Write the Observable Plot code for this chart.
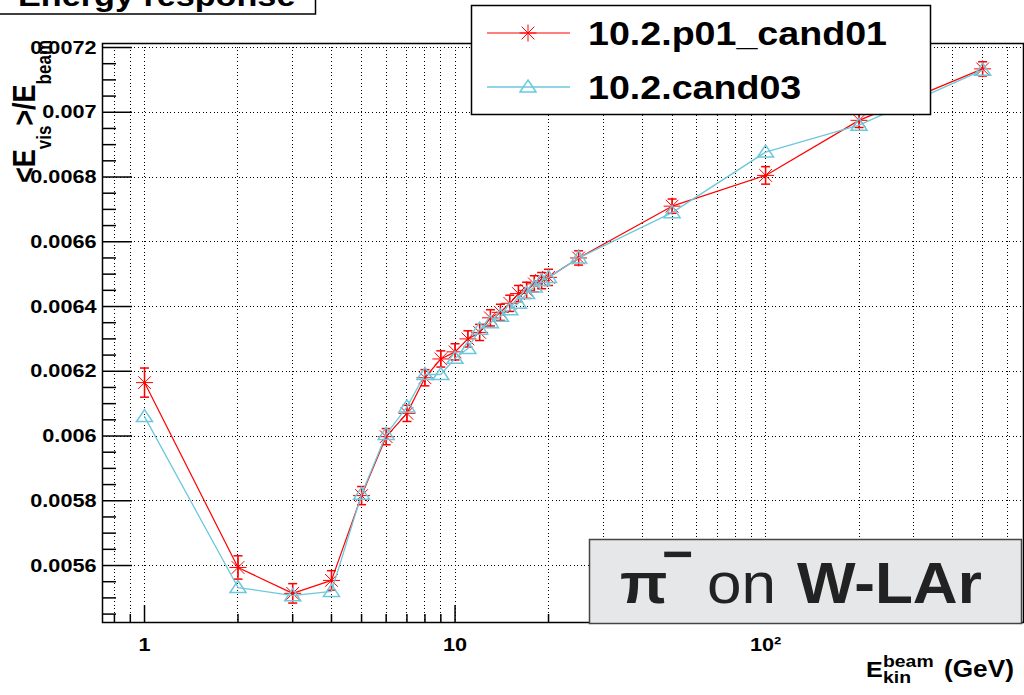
<!DOCTYPE html>
<html><head><meta charset="utf-8">
<script src="https://cdn.jsdelivr.net/npm/d3@7"></script>
<script src="https://cdn.jsdelivr.net/npm/@observablehq/plot@0.6"></script>
<style>html,body{margin:0;padding:0;background:#fff;} #chart{width:1024px;height:695px;overflow:hidden;}</style>
</head><body><div id="chart"></div>
<script>
// ---- data ----
const energies = [1,2,3,4,5,6,7,8,9,10,11,12,13,14,15,16,17,18,19,20,25,50,100,200,500];
const cand01 = [0.006165,0.005594,0.005514,0.005554,0.005816,0.005998,0.00607,0.00618,0.006238,0.00626,
                0.0063,0.00632,0.006365,0.006382,0.00641,0.00644,0.00645,0.00647,0.00648,0.00649,
                0.00655,0.00671,0.006805,0.006975,0.007134];
const cand01Err = [0.000045,0.000036,0.00003,0.00003,0.000028,0.000025,0.000025,0.000025,0.000025,0.000025,
                   0.000025,0.000025,0.000025,0.000025,0.000025,0.000025,0.000025,0.000025,0.000025,0.000025,
                   0.000022,0.000022,0.000027,0.000022,0.000022];
const cand03 = [0.00606,0.005532,0.005507,0.00552,0.00582,0.006005,0.00609,0.00619,0.00619,0.00624,
                0.00627,0.00633,0.00635,0.00637,0.00639,0.00641,0.00644,0.00646,0.00648,0.00649,
                0.00655,0.00669,0.006877,0.00696,0.00713];
const seriesNames = ["10.2.p01_cand01","10.2.cand03"];
const seriesColors = ["#ff0000","#6cc8dc"];
const xGrid = [0.8,0.9,1,2,3,4,5,6,7,8,9,10,20,30,40,50,60,70,80,90,100,200,300,400,500,600];
const xMajor = [1,10,100];
const xMinor = [0.8,0.9,2,3,4,5,6,7,8,9,20,30,40,50,60,70,80,90,200,300,400,500,600];
const xLabels = ["1","10","10²"];
const yMajor = [0.0056,0.0058,0.006,0.0062,0.0064,0.0066,0.0068,0.007,0.0072];
const yLabels = ["0.0056","0.0058","0.006","0.0062","0.0064","0.0066","0.0068","0.007","0.0072"];
const yMinor = [0.00545,0.0055,0.00555,0.00565,0.0057,0.00575,0.00585,0.0059,0.00595,
                0.00605,0.0061,0.00615,0.00625,0.0063,0.00635,0.00645,0.0065,0.00655,
                0.00665,0.0067,0.00675,0.00685,0.0069,0.00695,0.00705,0.0071,0.00715];

const redData = energies.map((x,i)=>({x, y:cand01[i], e:cand01Err[i]}));
const cyanData = energies.map((x,i)=>({x, y:cand03[i]}));

// ---- symbols ----
const starSymbol = {draw(ctx,size){const r=Math.sqrt(size/Math.PI), d=r*0.75;
  ctx.moveTo(-r,0);ctx.lineTo(r,0);ctx.moveTo(0,-r);ctx.lineTo(0,r);
  ctx.moveTo(-d,-d);ctx.lineTo(d,d);ctx.moveTo(-d,d);ctx.lineTo(d,-d);}};
const triSymbol = {draw(ctx,size){const r=Math.sqrt(size/Math.PI);
  ctx.moveTo(0,-0.875*r);ctx.lineTo(r,0.625*r);ctx.lineTo(-r,0.625*r);ctx.closePath();}};
const capSymbol = {draw(ctx,size){const r=Math.sqrt(size/Math.PI);ctx.moveTo(-r,0);ctx.lineTo(r,0);}};

const W=1024,H=695,mL=102,mR=1,mT=43,mB=73;
const innerW=W-mL-mR, innerH=H-mT-mB;
const dotted = "1,2.6";
const FONT = "Liberation Sans, Arial, Helvetica, sans-serif";
const crisp = {shapeRendering:"crispEdges"};

const chart = Plot.plot({
  width:W, height:H, marginLeft:mL, marginRight:mR, marginTop:mT, marginBottom:mB,
  style:{fontFamily:FONT, background:"white", color:"black"},
  x:{type:"log", domain:[0.7323, 677]},
  y:{domain:[0.005424, 0.0072124]},
  marks:[
    Plot.ruleX(xGrid, {x:d=>d, stroke:"black", strokeDasharray:dotted, strokeWidth:1, ...crisp}),
    Plot.ruleY(yMajor, {y:d=>d, stroke:"black", strokeDasharray:dotted, strokeWidth:1, ...crisp}),
    Plot.tickX(xMajor, {x:d=>d, insetTop:innerH-17, stroke:"black", strokeWidth:1.5}),
    Plot.tickX(xMinor, {x:d=>d, insetTop:innerH-8, stroke:"black", strokeWidth:1.5}),
    Plot.tickY(yMajor, {y:d=>d, insetRight:innerW-30, stroke:"black", strokeWidth:1.5}),
    Plot.tickY(yMinor, {y:d=>d, insetRight:innerW-14, stroke:"black", strokeWidth:1.5}),
    // red series
    Plot.line(redData, {x:"x", y:"y", stroke:seriesColors[0], strokeWidth:1.2}),
    Plot.ruleX(redData, {x:"x", y1:d=>d.y-d.e, y2:d=>d.y+d.e, stroke:seriesColors[0], strokeWidth:1.5}),
    Plot.dot(redData, {x:"x", y:d=>d.y+d.e, symbol:capSymbol, r:4.5, stroke:seriesColors[0], strokeWidth:1.5}),
    Plot.dot(redData, {x:"x", y:d=>d.y-d.e, symbol:capSymbol, r:4.5, stroke:seriesColors[0], strokeWidth:1.5}),
    Plot.dot(redData, {x:"x", y:"y", symbol:starSymbol, r:8.5, stroke:seriesColors[0], strokeWidth:1, fill:"none"}),
    // cyan series
    Plot.line(cyanData, {x:"x", y:"y", stroke:seriesColors[1], strokeWidth:1.3}),
    Plot.dot(cyanData, {x:"x", y:"y", symbol:triSymbol, r:8, stroke:seriesColors[1], strokeWidth:1.5, fill:"none"}),
    Plot.frame({stroke:"black", strokeWidth:1.5}),
    Plot.axisX({ticks:xMajor, tickSize:0, tickPadding:15, tickFormat:(d)=>xLabels[xMajor.indexOf(d)], fontSize:19, fontWeight:"bold", label:null}),
    Plot.axisY({ticks:yMajor, tickSize:0, tickPadding:6, tickFormat:(d)=>yLabels[yMajor.indexOf(d)], fontSize:19, fontWeight:"bold", label:null})
  ]
});
document.getElementById("chart").appendChild(chart);

const S = 1.14;
const svg = d3.select(chart);
svg.selectAll("g[aria-label$='tick label'] text").each(function(){
  const t=this.getAttribute("transform");
  if(t) this.setAttribute("transform", t+` scale(${S},1)`);
});

function txt(x,y,str,size,weight,sx,anchor){
  return svg.append("text").attr("transform",`translate(${x},${y}) scale(${sx||S},1)`)
    .attr("font-family",FONT).attr("font-size",size).attr("font-weight",weight||"bold")
    .attr("text-anchor",anchor||"start").attr("fill","black").text(str);
}
function sym(s,x,y,r,color,w){
  const p=d3.path(); s.draw(p,r*r*Math.PI);
  svg.append("path").attr("d",p.toString()).attr("transform",`translate(${x},${y})`)
    .attr("fill","none").attr("stroke",color).attr("stroke-width",w);
}

// Title box (cut at top)
svg.append("rect").attr("x",-2).attr("y",-40).attr("width",317.5).attr("height",54)
  .attr("fill","white").attr("stroke","black").attr("stroke-width",1.5);
txt(18,6,"Energy response",30);

// Y axis title
const yt = svg.append("text").attr("transform",`translate(35,40) scale(${S},1) rotate(-90)`)
  .attr("text-anchor","end").attr("font-family",FONT).attr("font-weight","bold").attr("font-size",27);
yt.append("tspan").text("<E");
yt.append("tspan").attr("font-size",17).attr("dy",14).text("vis");
yt.append("tspan").attr("dy",-14).text(">/E");
yt.append("tspan").attr("font-size",17).attr("dy",14).text("beam");

// X axis title
txt(866,677,"E",22);
txt(883,667,"beam",17);
txt(883,683,"kin",17);
txt(944,677,"(GeV)",23);

// Legend
svg.append("rect").attr("x",471.5).attr("y",5.5).attr("width",459).attr("height",109)
  .attr("fill","white").attr("stroke","black").attr("stroke-width",1.5);
svg.append("line").attr("x1",487).attr("x2",570).attr("y1",33).attr("y2",33).attr("stroke",seriesColors[0]).attr("stroke-width",1.2);
sym(starSymbol,528,33,8.5,seriesColors[0],1);
txt(588,45,seriesNames[0],33);
svg.append("line").attr("x1",487).attr("x2",570).attr("y1",87).attr("y2",87).attr("stroke",seriesColors[1]).attr("stroke-width",1.3);
sym(triSymbol,528,87,8,seriesColors[1],1.5);
txt(588,99,seriesNames[1],33);

// pi- on W-LAr box
svg.append("rect").attr("x",589.5).attr("y",539.5).attr("width",432).attr("height",84)
  .attr("fill","#e6e7e9").attr("stroke","#444").attr("stroke-width",1.5);
txt(620,603,"π",58,"bold",1.07).attr("fill","#222");
txt(662,571,"−",50,"bold",1.07).attr("fill","#222");
txt(707,603,"on",58,"normal",1.07).attr("fill","#222");
txt(797,603,"W-LAr",58,"bold",1.07).attr("fill","#222");
</script></body></html>
